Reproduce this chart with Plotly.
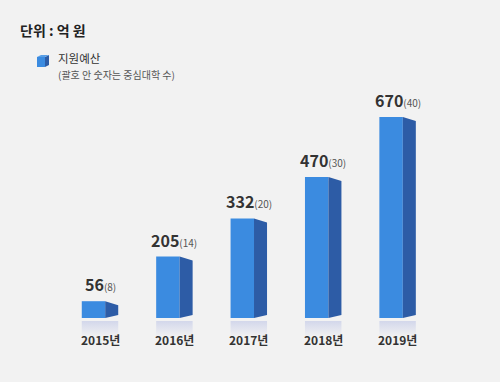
import plotly.graph_objects as go

# ---- data ----
years = ["2015년", "2016년", "2017년", "2018년", "2019년"]
budget = [56, 205, 332, 470, 670]          # 지원예산 (억 원)
centers = [8, 14, 20, 30, 40]              # 중심대학 수

FRONT = "#3b8be0"
SIDE = "#2d5ca6"
W, H = 500, 382
FONT = "Noto Sans CJK KR"

PXU = 0.30          # pixels per budget unit
BASE_PX = 318
SPACING = 74.4
X0_PX = 100
xmin = -X0_PX / SPACING
xmax = xmin + W / SPACING
ymax = BASE_PX / PXU
ymin = (BASE_PX - H) / PXU

fig = go.Figure()

xs = list(range(len(years)))
f_left, f_right, s_right = -0.245, 0.07, 0.245

# reflections (beneath bars)
for i, v in enumerate(budget):
    refl_depth = 19 / PXU
    fig.add_trace(go.Scatter(
        x=[i + f_left, i + s_right, i + s_right, i + f_left, i + f_left],
        y=[-3 / PXU, -3 / PXU, -refl_depth, -refl_depth, -3 / PXU],
        fill="toself", mode="lines", line=dict(width=0),
        fillgradient=dict(type="vertical",
                          colorscale=[[0, "rgba(100,120,210,0)"], [1, "rgba(100,120,210,0.22)"]]),
        hoverinfo="skip", showlegend=False))

# front faces
fig.add_trace(go.Bar(
    x=[i + (f_left + f_right) / 2 for i in xs], y=budget, base=0,
    width=f_right - f_left, marker=dict(color=FRONT, line=dict(width=0)),
    hoverinfo="skip", showlegend=False))

# side faces
for i, v in enumerate(budget):
    drop = 4 / PXU
    rise = 3 / PXU
    fig.add_trace(go.Scatter(
        x=[i + f_right, i + s_right, i + s_right, i + f_right, i + f_right],
        y=[v, v - drop, rise, 0, v],
        fill="toself", mode="lines", line=dict(width=0, color=SIDE),
        fillcolor=SIDE, hoverinfo="skip", showlegend=False))

annotations = []
for i, (v, c) in enumerate(zip(budget, centers)):
    annotations.append(dict(
        x=i, y=v, xref="x", yref="y", yanchor="bottom", xanchor="center", yshift=3,
        text=f"<b>{v}</b><span style='font-size:10px;color:#555555'>({c})</span>",
        showarrow=False, font=dict(family=FONT, size=16, color="#333333")))
    annotations.append(dict(
        x=i, y=(BASE_PX - 339) / PXU, xref="x", yref="y", yanchor="middle", xanchor="center",
        text=f"<b>{years[i]}</b>", showarrow=False,
        font=dict(family=FONT, size=12, color="#333333")))

def px(x, y):
    return x / W, 1 - y / H

annotations.append(dict(x=px(18, 30)[0], y=px(18, 30)[1], xref="paper", yref="paper",
                        xanchor="left", yanchor="middle", showarrow=False,
                        text="<b>단위 : 억 원</b>", font=dict(family=FONT, size=14, color="#222222")))
annotations.append(dict(x=px(56, 58)[0], y=px(56, 58)[1], xref="paper", yref="paper",
                        xanchor="left", yanchor="middle", showarrow=False,
                        text="지원예산", font=dict(family=FONT, size=11.5, color="#333333")))
annotations.append(dict(x=px(56, 74)[0], y=px(56, 74)[1], xref="paper", yref="paper",
                        xanchor="left", yanchor="middle", showarrow=False,
                        text="(괄호 안 숫자는 중심대학 수)", font=dict(family=FONT, size=10, color="#555555")))

def path(points):
    s = ""
    for k, (a, b) in enumerate(points):
        X, Y = px(a, b)
        s += ("M" if k == 0 else "L") + f"{X:.5f},{Y:.5f} "
    return s + "Z"

shapes = [
    dict(type="path", xref="paper", yref="paper", path=path([(37, 57), (45, 57), (45, 67), (37, 67)]),
         fillcolor=FRONT, line=dict(width=0)),
    dict(type="path", xref="paper", yref="paper", path=path([(45, 57), (49, 55), (49, 65), (45, 67)]),
         fillcolor=SIDE, line=dict(width=0)),
    dict(type="path", xref="paper", yref="paper", path=path([(37, 57), (41, 55), (49, 55), (45, 57)]),
         fillcolor="#5a9fe6", line=dict(width=0)),
]

fig.update_layout(
    width=W, height=H, margin=dict(l=0, r=0, t=0, b=0),
    paper_bgcolor="#f2f2f2", plot_bgcolor="#f2f2f2",
    xaxis=dict(range=[xmin, xmax], visible=False, fixedrange=True),
    yaxis=dict(range=[ymin, ymax], visible=False, fixedrange=True),
    annotations=annotations, shapes=shapes, showlegend=False,
)

fig.write_html("out.html", config={"displayModeBar": False},
               post_script="document.body.style.margin='0';document.body.style.padding='0';"
                           "document.body.style.background='#f2f2f2';")
